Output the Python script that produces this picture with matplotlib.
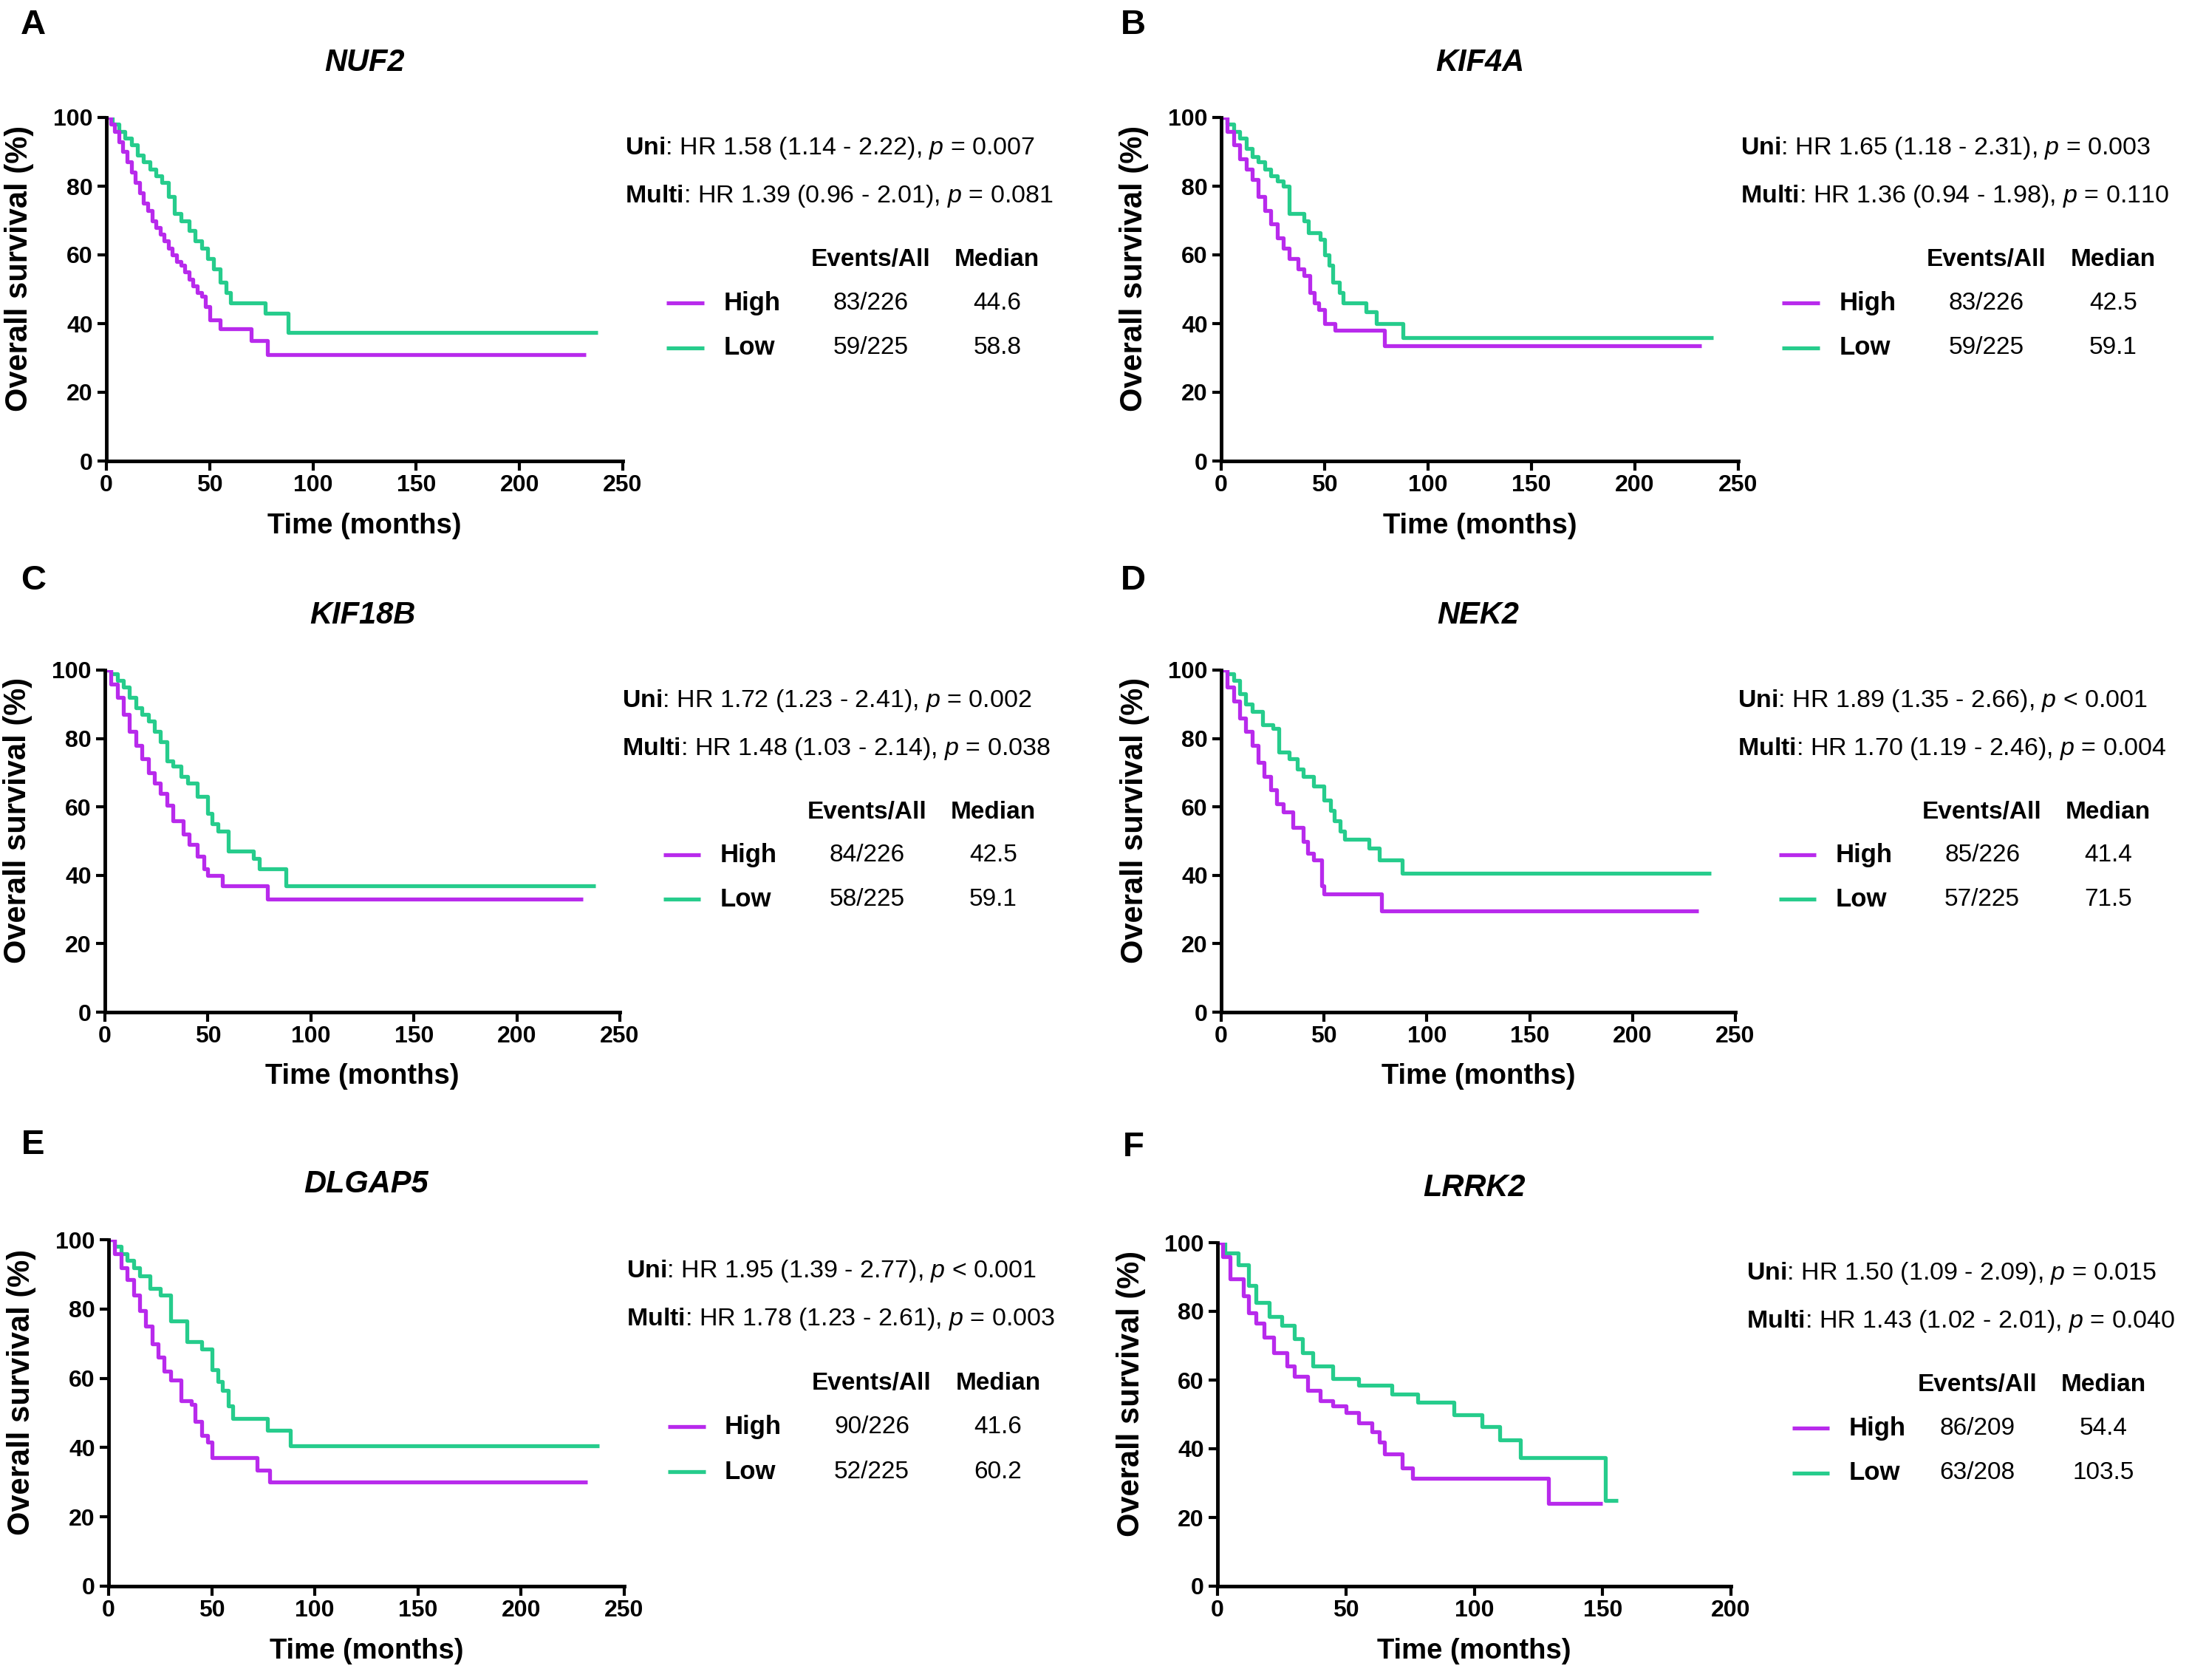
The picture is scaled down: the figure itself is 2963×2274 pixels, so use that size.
import matplotlib
matplotlib.use("Agg")
import matplotlib.pyplot as plt

plt.rcParams['font.family'] = ['Liberation Sans', 'DejaVu Sans']
plt.rcParams['mathtext.fontset'] = 'custom'
plt.rcParams['mathtext.rm'] = 'Liberation Sans'
plt.rcParams['mathtext.it'] = 'Liberation Sans:italic'
plt.rcParams['mathtext.bf'] = 'Liberation Sans:bold'

HIGH_COL = '#B82AEC'
LOW_COL = '#26CC8C'

# ----------------------------------------------------------------------
# DATA

genes = ['NUF2', 'KIF4A', 'KIF18B', 'NEK2', 'DLGAP5', 'LRRK2']
letters = ['A', 'B', 'C', 'D', 'E', 'F']

nuf2_high_t = [0, 2, 4, 6, 8, 10, 12, 14, 16, 18, 20, 22, 24, 26, 28, 30, 32, 34, 36, 38, 40, 42, 44, 46, 48, 50, 55, 70, 78, 232]
nuf2_high_s = [100, 98, 96, 93, 90, 87, 84, 81, 78, 75, 73, 70, 68, 66, 64, 62, 60, 58, 57, 55, 53, 51, 49, 48, 45, 41, 38.5, 35, 31, 31]
nuf2_low_t = [0, 3, 6, 9, 12, 15, 18, 21, 24, 27, 30, 33, 36, 40, 43, 46, 49, 52, 55, 58, 60, 77, 88, 238]
nuf2_low_s = [100, 98, 96, 94, 92, 89, 87, 85, 83, 81, 77, 72, 70, 67, 64, 62, 59, 56, 52, 49, 46, 43, 37.5, 37.5]

kif4a_high_t = [0, 3, 6, 9, 12, 15, 18, 21, 24, 27, 30, 33, 37, 40, 43, 45, 47, 50, 55, 79, 232]
kif4a_high_s = [100, 96, 92, 88, 85, 82, 77, 73, 69, 65, 62, 59, 56, 54, 49, 46, 44, 40, 38, 33.5, 33.5]
kif4a_low_t = [0, 3, 6, 9, 12, 15, 18, 21, 24, 27, 30, 33, 40, 42, 48, 50, 52, 54, 57, 59, 70, 75, 88, 238]
kif4a_low_s = [100, 98, 96, 94, 91, 88.5, 87, 85, 83, 81.5, 80, 72, 70, 66.5, 64.5, 60, 57, 52, 49, 46, 43.5, 40, 36, 36]

kif18b_high_t = [0, 3, 6, 9, 12, 15, 18, 21, 24, 27, 30, 33, 38, 41, 45, 48, 50, 57, 79, 232]
kif18b_high_s = [100, 96, 92, 87, 82, 78, 74, 70, 67, 64, 60.5, 56, 52, 49, 45.5, 42, 40, 37, 33, 33]
kif18b_low_t = [0, 3, 6, 9, 12, 15, 18, 21, 24, 27, 30, 33, 37, 40, 45, 50, 52, 55, 60, 72, 75, 88, 238]
kif18b_low_s = [100, 99, 97, 95, 92, 89, 87, 85, 82, 79, 73.5, 72, 69, 67, 63, 58, 55, 53, 47, 45, 42, 37, 37]

nek2_high_t = [0, 3, 6, 9, 12, 15, 18, 21, 24, 27, 30, 35, 40, 42, 45, 49, 50, 78, 232]
nek2_high_s = [100, 95, 91, 86, 82, 78, 73, 69, 65, 61, 58.5, 54, 50, 46.5, 44.5, 37, 34.5, 29.5, 29.5]
nek2_low_t = [0, 3, 6, 9, 12, 15, 20, 25, 28, 33, 37, 40, 45, 50, 53, 55, 58, 60, 72, 77, 88, 238]
nek2_low_s = [100, 99, 97, 93, 90, 88, 84, 83, 76, 74, 71, 69, 66, 62, 59, 56, 53, 50.5, 48, 44.5, 40.5, 40.5]

dlgap5_high_t = [0, 3, 6, 9, 12, 15, 18, 21, 24, 27, 30, 35, 40, 42, 45, 48, 50, 72, 78, 232]
dlgap5_high_s = [100, 96, 92, 88.5, 84, 79.5, 75, 70, 66, 62, 59.5, 53.5, 52.5, 47.5, 43.5, 41.5, 37, 33.5, 30, 30]
dlgap5_low_t = [0, 3, 6, 9, 12, 15, 20, 25, 30, 38, 45, 50, 53, 55, 58, 60, 77, 88, 238]
dlgap5_low_s = [100, 98, 96, 94, 92, 89.5, 86, 84, 76.5, 70.5, 68.5, 62.5, 59, 56.5, 52, 48.5, 45, 40.5, 40.5]

lrrk2_high_t = [0, 2, 5, 10, 12, 15, 18, 22, 27, 30, 35, 40, 45, 50, 55, 60, 63, 65, 72, 76, 129, 150]
lrrk2_high_s = [100, 96, 89.5, 84.5, 79.5, 76.5, 72.5, 68, 64, 61, 57, 54, 52.5, 50.5, 47.5, 45, 42, 38.5, 34.5, 31.5, 24, 24]
lrrk2_low_t = [0, 3, 8, 12, 15, 20, 25, 30, 33, 37, 45, 55, 68, 78, 92, 103, 110, 118, 151, 156]
lrrk2_low_s = [100, 97, 93.5, 87.5, 82.5, 78.5, 76, 72, 68, 64, 60.5, 58.5, 56, 53.5, 50, 46.5, 42.5, 37.5, 25, 25]

uni_text = ['1.58 (1.14 - 2.22), $\\it{p}$ = 0.007',
            '1.65 (1.18 - 2.31), $\\it{p}$ = 0.003',
            '1.72 (1.23 - 2.41), $\\it{p}$ = 0.002',
            '1.89 (1.35 - 2.66), $\\it{p}$ < 0.001',
            '1.95 (1.39 - 2.77), $\\it{p}$ < 0.001',
            '1.50 (1.09 - 2.09), $\\it{p}$ = 0.015']
multi_text = ['1.39 (0.96 - 2.01), $\\it{p}$ = 0.081',
              '1.36 (0.94 - 1.98), $\\it{p}$ = 0.110',
              '1.48 (1.03 - 2.14), $\\it{p}$ = 0.038',
              '1.70 (1.19 - 2.46), $\\it{p}$ = 0.004',
              '1.78 (1.23 - 2.61), $\\it{p}$ = 0.003',
              '1.43 (1.02 - 2.01), $\\it{p}$ = 0.040']
events_high = ['83/226', '83/226', '84/226', '85/226', '90/226', '86/209']
events_low = ['59/225', '59/225', '58/225', '57/225', '52/225', '63/208']
median_high = ['44.6', '42.5', '42.5', '41.4', '41.6', '54.4']
median_low = ['58.8', '59.1', '59.1', '71.5', '60.2', '103.5']
xmax = [250, 250, 250, 250, 250, 200]

curves = [
    (nuf2_high_t, nuf2_high_s, nuf2_low_t, nuf2_low_s),
    (kif4a_high_t, kif4a_high_s, kif4a_low_t, kif4a_low_s),
    (kif18b_high_t, kif18b_high_s, kif18b_low_t, kif18b_low_s),
    (nek2_high_t, nek2_high_s, nek2_low_t, nek2_low_s),
    (dlgap5_high_t, dlgap5_high_s, dlgap5_low_t, dlgap5_low_s),
    (lrrk2_high_t, lrrk2_high_s, lrrk2_low_t, lrrk2_low_s),
]

# ----------------------------------------------------------------------
# LAYOUT (figure fractions)

W, H = 2963, 2274
# axes boxes in pixels: left, top, right, bottom
boxes = [(144, 159, 843, 624), (1653, 159, 2353, 624),
         (142, 907, 839, 1370), (1653, 907, 2349, 1370),
         (147, 1678, 845, 2147), (1648, 1682, 2343, 2147)]
letter_pos = [(45, 34), (1534, 34), (45, 786), (1534, 786), (45, 1550), (1534, 1553)]

fig = plt.figure(figsize=(W / 100, H / 100), dpi=100)

for i in range(6):
    l, t, r, b = boxes[i]
    ax = fig.add_axes([l / W, 1 - b / H, (r - l) / W, (b - t) / H])
    ht, hs, lt, ls = curves[i]
    ax.step(lt, ls, where='post', color=LOW_COL, lw=3.8, solid_capstyle='butt')
    ax.step(ht, hs, where='post', color=HIGH_COL, lw=3.8, solid_capstyle='butt')

    ax.set_xlim(0, xmax[i])
    ax.set_ylim(0, 100)
    ax.set_xticks(range(0, xmax[i] + 1, 50))
    ax.set_yticks(range(0, 101, 20))
    for s in ['top', 'right']:
        ax.spines[s].set_visible(False)
    for s in ['left', 'bottom']:
        ax.spines[s].set_linewidth(3.5)
    ax.tick_params(direction='out', length=9, width=3, labelsize=23, pad=4)
    for lab in ax.get_xticklabels() + ax.get_yticklabels():
        lab.set_fontweight('bold')

    ax.set_xlabel('Time (months)', fontsize=27.5, fontweight='bold')
    ax.set_ylabel('Overall survival (%)', fontsize=30, fontweight='bold')
    ax.xaxis.set_label_coords(0.5, -0.15)
    ax.yaxis.set_label_coords(-0.14, 0.56)

    ax.text(0.5, 1.16, genes[i], transform=ax.transAxes, ha='center', va='center',
            fontsize=30, fontweight='bold', style='italic')
    fig.text(letter_pos[i][0] / W, 1 - letter_pos[i][1] / H, letters[i],
             ha='center', va='center', fontsize=34, fontweight='bold')

    # stats + small table on the right
    x0 = 1.005 if i < 5 else 1.03
    ax.text(x0, 0.91, '$\\bf{Uni}$: HR ' + uni_text[i], transform=ax.transAxes,
            ha='left', va='center', fontsize=24.5)
    ax.text(x0, 0.77, '$\\bf{Multi}$: HR ' + multi_text[i], transform=ax.transAxes,
            ha='left', va='center', fontsize=24.5)

    lx = 1.085 if i < 5 else 1.12
    ev_x = 1.48
    md_x = 1.725
    ax.text(ev_x, 0.585, 'Events/All', transform=ax.transAxes, ha='center', va='center',
            fontsize=24, fontweight='bold')
    ax.text(md_x, 0.585, 'Median', transform=ax.transAxes, ha='center', va='center',
            fontsize=24, fontweight='bold')
    for yy, col, name, ev, md in [(0.46, HIGH_COL, 'High', events_high[i], median_high[i]),
                                  (0.33, LOW_COL, 'Low', events_low[i], median_low[i])]:
        ax.plot([lx, lx + 0.072], [yy, yy], transform=ax.transAxes, color=col,
                lw=3.8, clip_on=False, solid_capstyle='butt')
        ax.text(lx + 0.11, yy, name, transform=ax.transAxes, ha='left', va='center',
                fontsize=25, fontweight='bold')
        ax.text(ev_x, yy, ev, transform=ax.transAxes, ha='center', va='center', fontsize=24)
        ax.text(md_x, yy, md, transform=ax.transAxes, ha='center', va='center', fontsize=24)

fig.savefig('out.png', dpi=100)
